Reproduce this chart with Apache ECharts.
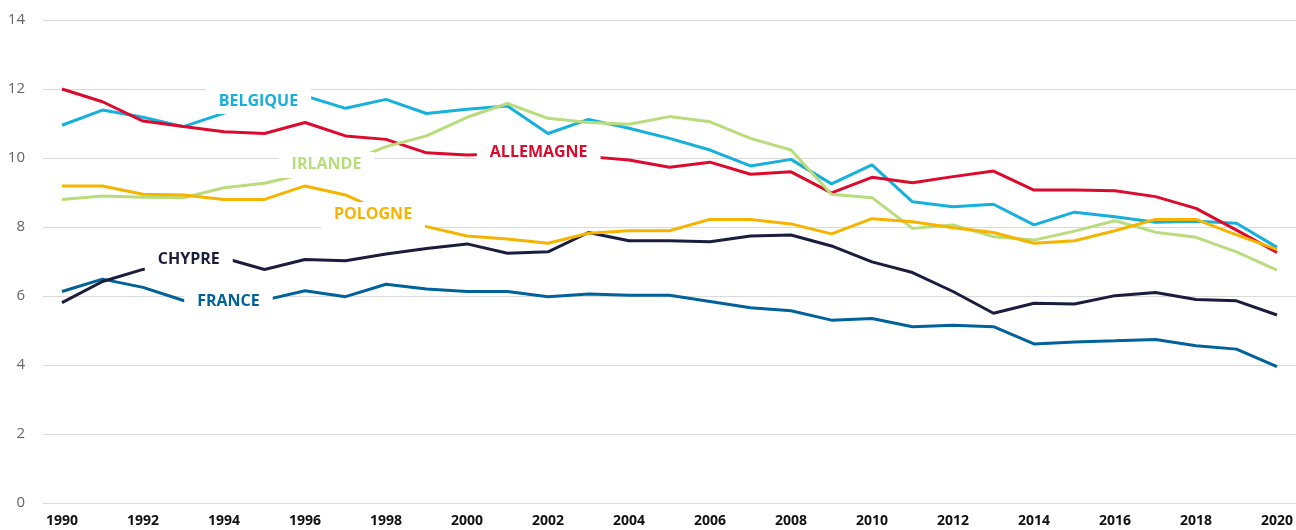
<!DOCTYPE html>
<html>
<head>
<meta charset="utf-8">
<script src="https://cdn.jsdelivr.net/npm/echarts@6/dist/echarts.min.js"></script>
<style>
html, body { margin: 0; padding: 0; background: #fff; }
#chart { width: 1296px; height: 530px; }
</style>
</head>
<body>
<div id="chart"></div>
<script>
var years = [];
for (var y = 1990; y <= 2020; y++) years.push(y);

var belgique = [10.95, 11.39, 11.18, 10.91, 11.3, 11.6, 11.8, 11.44, 11.7, 11.29, 11.41, 11.51, 10.71, 11.12, 10.86, 10.57, 10.23, 9.77, 9.96, 9.25, 9.8, 8.73, 8.59, 8.66, 8.06, 8.43, 8.3, 8.14, 8.17, 8.11, 7.41];
var allemagne = [12.0, 11.63, 11.07, 10.91, 10.76, 10.71, 11.03, 10.64, 10.54, 10.15, 10.09, 10.12, 10.05, 10.04, 9.94, 9.73, 9.88, 9.53, 9.6, 8.99, 9.44, 9.28, 9.46, 9.62, 9.07, 9.07, 9.05, 8.88, 8.54, 7.91, 7.26];
var irlande = [8.8, 8.9, 8.86, 8.85, 9.14, 9.27, 9.55, 9.85, 10.33, 10.64, 11.18, 11.58, 11.15, 11.03, 10.98, 11.2, 11.05, 10.57, 10.23, 8.95, 8.85, 7.96, 8.06, 7.72, 7.62, 7.88, 8.18, 7.85, 7.7, 7.28, 6.75];
var pologne = [9.19, 9.19, 8.95, 8.93, 8.8, 8.8, 9.19, 8.93, 8.4, 8.01, 7.74, 7.65, 7.53, 7.82, 7.89, 7.89, 8.22, 8.22, 8.09, 7.8, 8.24, 8.15, 7.98, 7.84, 7.53, 7.6, 7.89, 8.22, 8.22, 7.77, 7.35];
var chypre = [5.81, 6.42, 6.77, 6.95, 7.1, 6.77, 7.06, 7.02, 7.22, 7.38, 7.51, 7.24, 7.28, 7.84, 7.6, 7.6, 7.57, 7.74, 7.77, 7.45, 6.99, 6.68, 6.13, 5.5, 5.79, 5.77, 6.01, 6.1, 5.9, 5.86, 5.45];
var france = [6.13, 6.49, 6.25, 5.87, 5.85, 5.88, 6.15, 5.98, 6.34, 6.2, 6.13, 6.13, 5.98, 6.06, 6.02, 6.02, 5.84, 5.66, 5.57, 5.3, 5.35, 5.11, 5.15, 5.11, 4.61, 4.67, 4.7, 4.74, 4.56, 4.46, 3.95];

var yTicks = [0, 2, 4, 6, 8, 10, 12, 14];
var xTicks = [1990, 1992, 1994, 1996, 1998, 2000, 2002, 2004, 2006, 2008, 2010, 2012, 2014, 2016, 2018, 2020];

var font = "'Open Sans', 'Noto Sans', sans-serif";

function pairs(arr) {
    return arr.map(function (v, i) { return [years[i], v]; });
}

function makeSeries(name, data, color, labelAt) {
    return {
        name: name,
        type: 'line',
        xAxisIndex: 1,
        yAxisIndex: 1,
        data: pairs(data),
        symbol: 'none',
        lineStyle: { color: color, width: 3 },
        markPoint: {
            symbol: 'rect',
            symbolSize: 0,
            silent: true,
            label: {
                show: true,
                position: 'inside',
                formatter: name,
                color: color,
                fontFamily: font,
                fontWeight: 'bold',
                fontSize: 16,
                lineHeight: 16,
                backgroundColor: '#fff',
                padding: [5, 13]
            },
            data: [{ coord: labelAt }]
        }
    };
}

var chart = echarts.init(document.getElementById('chart'));
chart.setOption({
    animation: false,
    grid: [
        { left: 43, right: 0, top: 20, bottom: 27 },
        { left: 62, right: 16, top: 20, bottom: 27 }
    ],
    xAxis: [
        { gridIndex: 0, type: 'value', min: 0, max: 1, show: false },
        {
            gridIndex: 1, type: 'value', min: xTicks[0], max: xTicks[xTicks.length - 1], interval: 2,
            axisLine: { show: false },
            axisTick: { show: false },
            splitLine: { show: false },
            axisLabel: {
                margin: 11,
                color: '#111',
                fontFamily: font,
                fontWeight: 'bold',
                fontSize: 14,
                showMinLabel: true,
                showMaxLabel: true,
                formatter: function (v) { return String(v); }
            }
        }
    ],
    yAxis: [
        {
            gridIndex: 0, type: 'value', min: yTicks[0], max: yTicks[yTicks.length - 1], interval: 2,
            axisLine: { show: false },
            axisTick: { show: false },
            splitLine: { lineStyle: { color: '#dadada', width: 1 } },
            axisLabel: { margin: 18, color: '#666', fontFamily: font, fontSize: 15 }
        },
        { gridIndex: 1, type: 'value', min: 0, max: 14, show: false, splitLine: { show: false } }
    ],
    series: [
        makeSeries('FRANCE', france, '#00629b', [1994.11, 5.83]),
        makeSeries('CHYPRE', chypre, '#1b1d3f', [1993.13, 7.07]),
        makeSeries('BELGIQUE', belgique, '#16b0dc', [1994.85, 11.65]),
        makeSeries('ALLEMAGNE', allemagne, '#dc0a2d', [2001.77, 10.17]),
        makeSeries('IRLANDE', irlande, '#b9dc7c', [1996.53, 9.8]),
        makeSeries('POLOGNE', pologne, '#f5b400', [1997.68, 8.35])
    ]
});
</script>
</body>
</html>
